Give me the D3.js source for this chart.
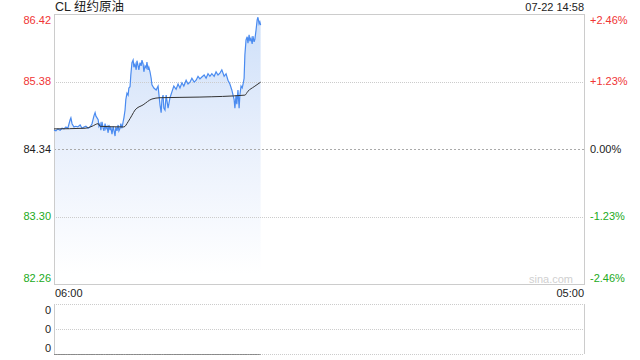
<!DOCTYPE html>
<html>
<head>
<meta charset="utf-8">
<script src="https://cdn.jsdelivr.net/npm/d3@7"></script>
<style>
  body { margin: 0; background: #fff; }
  svg { display: block; font-family: Arial, "Liberation Sans", "Noto Sans CJK SC", sans-serif; }
</style>
</head>
<body>
<div id="chart"></div>
<script>
// données : minutes depuis 06:00, prix
const minutes = [
  0, 5, 10, 16, 21, 26, 31, 36, 42, 44, 47, 52, 57, 62, 68, 73, 78, 83, 89, 94, 99, 104, 107, 109,
  115, 117, 120, 122, 125, 128, 130, 133, 135, 138, 141, 143, 146, 148, 151, 154, 156, 159, 161, 164, 167, 169, 172, 174, 177, 180, 182,
  185, 187, 190, 193, 195, 198,
  200, 203, 206, 208, 211, 214, 216, 219, 221, 224, 227, 229, 232, 234, 237, 240, 242, 245, 247, 250, 253,
  255, 260, 266, 271, 276, 279, 281, 284, 286, 289, 292, 297, 302, 307, 312, 318, 323, 328, 333, 338, 344, 349, 354, 359,
  365, 370, 375, 380, 385, 391, 396, 401, 406, 411, 417, 422, 427, 432, 437, 443, 448, 453, 458, 463,
  469, 471, 474, 476, 479, 482, 484, 487, 490, 492, 495, 497,
  500, 503, 505, 508, 510, 513, 516, 518, 521, 523, 526, 529, 531, 534, 536, 538]
const prices = [
  84.63, 84.62, 84.65, 84.63, 84.66, 84.65, 84.68, 84.66, 84.79, 84.82, 84.73, 84.68, 84.69, 84.68, 84.71, 84.66, 84.68, 84.69, 84.66, 84.68, 84.73, 84.85, 84.90, 84.85,
  84.79, 84.69, 84.73, 84.63, 84.76, 84.66, 84.62, 84.73, 84.65, 84.69, 84.59, 84.71, 84.63, 84.68, 84.57, 84.69, 84.63, 84.54, 84.68, 84.62, 84.71, 84.62, 84.66, 84.73, 84.66, 84.76, 84.82,
  84.94, 85.10, 85.20, 85.17, 85.28, 85.30,
  85.48, 85.67, 85.71, 85.60, 85.65, 85.56, 85.70, 85.62, 85.56, 85.67, 85.62, 85.71, 85.65, 85.53, 85.62, 85.59, 85.68, 85.56, 85.60, 85.53, 85.43,
  85.33, 85.28, 85.25, 85.31, 85.02, 84.90, 85.10, 85.17, 84.97, 84.94, 85.17, 84.97, 85.13, 85.22, 85.31, 85.26, 85.34, 85.28, 85.36, 85.31, 85.40, 85.34, 85.37, 85.43,
  85.37, 85.40, 85.46, 85.42, 85.45, 85.48, 85.43, 85.50, 85.46, 85.50, 85.46, 85.53, 85.48, 85.51, 85.56, 85.46, 85.50, 85.40, 85.34, 85.25,
  85.10, 84.97, 85.17, 85.03, 85.25, 84.97, 85.17, 85.31, 85.28, 85.33, 85.43, 85.79,
  86.02, 86.07, 85.97, 86.10, 86.00, 86.05, 85.96, 86.08, 85.99, 86.03, 86.17, 86.33, 86.37, 86.27, 86.30, 86.25]

// prix moyen
const avgMinutes = [0, 81, 99, 115, 120, 182, 193, 203, 211, 232, 255, 276, 380, 497, 505, 521, 538]
const avgPrices = [84.65, 84.66, 84.69, 84.73, 84.69, 84.68, 84.76, 84.86, 84.94, 85.02, 85.11, 85.13, 85.14, 85.17, 85.23, 85.30, 85.37]

const prevClose = 84.34
const priceTicks = [86.42, 85.38, 84.34, 83.30, 82.26]
const pctTicks = ["+2.46%", "+1.23%", "0.00%", "-1.23%", "-2.46%"]
const timeLabels = ["06:00", "05:00"]
const volTicks = [0, 0, 0]
const title = "CL 纽约原油"
const stamp = "07-22 14:58"

const width = 640, height = 360
const pLeft = 54, pRight = 584, pTop = 14, pBottom = 284
const volTop = 304, volBottom = 354

const red = "#f03535", green = "#22aa22", grid = "#cccccc"

const svg = d3.select("#chart").append("svg")
  .attr("width", width).attr("height", height)

// échelles
const x = d3.scaleLinear().domain([0, 1380]).range([pLeft, pRight])
const y = d3.scaleLinear().domain([82.26, 86.42]).range([pBottom, pTop])
const yv = d3.scaleLinear().domain([0, 2]).range([volBottom, volTop])

// dégradé
const defs = svg.append("defs")
const grad = defs.append("linearGradient")
  .attr("id", "fill").attr("gradientUnits", "userSpaceOnUse")
  .attr("x1", 0).attr("x2", 0).attr("y1", pTop).attr("y2", pBottom - 10)
grad.append("stop").attr("offset", 0).attr("stop-color", "#cddff9")
grad.append("stop").attr("offset", 0.5).attr("stop-color", "#e9f0fc")
grad.append("stop").attr("offset", 1).attr("stop-color", "#ffffff")

const data = minutes.map((m, i) => ({ t: m, p: prices[i] }))
const avg = avgMinutes.map((m, i) => ({ t: m, p: avgPrices[i] }))

svg.append("path")
  .datum(data)
  .attr("fill", "url(#fill)")
  .attr("d", d3.area().x(d => x(d.t)).y0(pBottom).y1(d => y(d.p)))

// grille
priceTicks.slice(1, -1).forEach(v => {
  svg.append("line")
    .attr("x1", pLeft).attr("x2", pRight)
    .attr("y1", Math.round(y(v)) + 0.5).attr("y2", Math.round(y(v)) + 0.5)
    .attr("stroke", v === prevClose ? "#aaaaaa" : grid)
    .attr("stroke-dasharray", v === prevClose ? "2,2" : "1,1")
})

// cadre
svg.append("rect")
  .attr("x", pLeft + 0.5).attr("y", pTop + 0.5)
  .attr("width", pRight - pLeft).attr("height", pBottom - pTop)
  .attr("fill", "none").attr("stroke", grid)

// courbes
svg.append("path")
  .datum(data)
  .attr("fill", "none")
  .attr("stroke", "#4a8bf0")
  .attr("stroke-width", 1.2)
  .attr("d", d3.line().x(d => x(d.t)).y(d => y(d.p)))

svg.append("path")
  .datum(avg)
  .attr("fill", "none")
  .attr("stroke", "#333")
  .attr("stroke-width", 1)
  .attr("d", d3.line().x(d => x(d.t)).y(d => y(d.p)).curve(d3.curveMonotoneX))

// étiquettes
const col = i => i < 2 ? red : (i === 2 ? "#222" : green)
priceTicks.forEach((v, i) => {
  let yy = y(v)
  if (i === 0) yy += 6
  if (i === priceTicks.length - 1) yy -= 6
  svg.append("text")
    .text(v.toFixed(2))
    .attr("x", pLeft - 3).attr("y", yy)
    .attr("dy", "0.35em")
    .attr("text-anchor", "end")
    .style("font-size", "11px")
    .style("fill", col(i))
  svg.append("text")
    .text(pctTicks[i])
    .attr("x", pRight + 6).attr("y", yy)
    .attr("dy", "0.35em")
    .style("font-size", "11px")
    .style("fill", col(i))
})

svg.append("text")
  .text(title)
  .attr("x", pLeft + 1).attr("y", 11)
  .style("font-size", "12.5px")
  .style("fill", "#222")

svg.append("text")
  .text(stamp)
  .attr("x", pRight).attr("y", 11)
  .attr("text-anchor", "end")
  .style("font-size", "11px")
  .style("fill", "#222")

svg.append("text")
  .text(timeLabels[0])
  .attr("x", pLeft + 1).attr("y", 297)
  .style("font-size", "11px")
  .style("fill", "#222")

svg.append("text")
  .text(timeLabels[1])
  .attr("x", pRight).attr("y", 297)
  .attr("text-anchor", "end")
  .style("font-size", "11px")
  .style("fill", "#222")

svg.append("text")
  .text("sina.com")
  .attr("x", 573).attr("y", 283)
  .attr("text-anchor", "end")
  .style("font-size", "11px")
  .style("fill", "#d0d0d0")

// volume
volTicks.forEach((v, i) => {
  const yy = yv(2 - i)
  svg.append("line")
    .attr("x1", pLeft).attr("x2", pRight)
    .attr("y1", Math.round(yy) + 0.5).attr("y2", Math.round(yy) + 0.5)
    .attr("stroke", grid)
    .attr("stroke-dasharray", "1,1")
  let ly = yy + (i === 0 ? 6 : (i === 2 ? -6 : 0))
  svg.append("text")
    .text(v)
    .attr("x", pLeft - 3).attr("y", ly)
    .attr("dy", "0.35em")
    .attr("text-anchor", "end")
    .style("font-size", "11px")
    .style("fill", "#222")
})
svg.append("line")
  .attr("x1", pLeft + 0.5).attr("x2", pLeft + 0.5)
  .attr("y1", volTop).attr("y2", volBottom)
  .attr("stroke", grid)
svg.append("line")
  .attr("x1", pRight + 0.5).attr("x2", pRight + 0.5)
  .attr("y1", volTop).attr("y2", volBottom)
  .attr("stroke", grid)

// barres de volume (toutes à zéro)
svg.append("path")
  .datum(data)
  .attr("fill", "none")
  .attr("stroke", "#888")
  .attr("d", d3.line().x(d => x(d.t)).y(() => Math.round(yv(0)) + 0.5))
</script>
</body>
</html>
